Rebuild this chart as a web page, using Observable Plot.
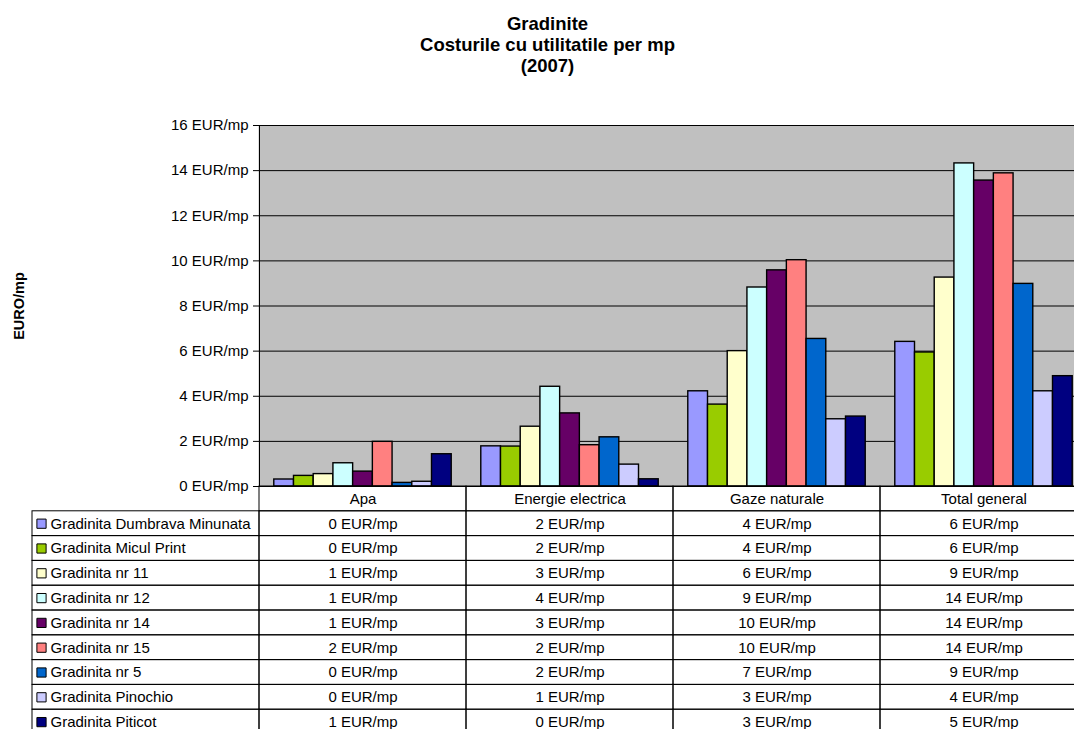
<!DOCTYPE html>
<html>
<head>
<meta charset="utf-8">
<script src="https://cdn.jsdelivr.net/npm/d3@7"></script>
<script src="https://cdn.jsdelivr.net/npm/@observablehq/plot@0.6"></script>
<style>
  html, body { margin: 0; padding: 0; background: #fff; overflow: hidden; }
  #wrap { position: relative; width: 1095px; height: 729px; font-family: "Liberation Sans", Arial, sans-serif; color: #000; }
  #title { position: absolute; left: 0; top: 12.6px; width: 1095px; text-align: center; font-weight: bold; font-size: 18.5px; line-height: 21.2px; }
  #ylabel { position: absolute; left: 19px; top: 306px; transform: translate(-50%, -50%) rotate(-90deg); font-weight: bold; font-size: 14.5px; white-space: nowrap; }
  #chart { position: absolute; left: 0; top: 0; }
  #table { position: absolute; left: 0; top: 486px; }
  svg { overflow: visible; }
</style>
</head>
<body>
<div id="wrap">
  <div id="title">Gradinite<br>Costurile cu utilitatile per mp<br>(2007)</div>
  <div id="ylabel">EURO/mp</div>
  <div id="chart"></div>
  <div id="table"></div>
</div>
<script>
const categories = ["Apa", "Energie electrica", "Gaze naturale", "Total general"];
const schools = [
  "Gradinita Dumbrava Minunata",
  "Gradinita Micul Print",
  "Gradinita nr 11",
  "Gradinita nr 12",
  "Gradinita nr 14",
  "Gradinita nr 15",
  "Gradinita nr 5",
  "Gradinita Pinochio",
  "Gradinita Piticot"
];
const colors = ["#9999FF", "#99CC00", "#FFFFCC", "#CCFFFF", "#660066", "#FF8080", "#0066CC", "#CCCCFF", "#000080"];

const apa     = [0.31, 0.47, 0.55, 1.03, 0.66, 1.98, 0.16, 0.21, 1.43];
const energie = [1.78, 1.77, 2.65, 4.42, 3.24, 1.83, 2.18, 0.97, 0.32];
const gaze    = [4.22, 3.63, 6.00, 8.82, 9.58, 10.03, 6.54, 2.98, 3.10];
const total   = [6.41, 5.94, 9.26, 14.32, 13.56, 13.88, 8.98, 4.22, 4.89];

const yTicks = [0, 2, 4, 6, 8, 10, 12, 14, 16];
const unit = "EUR/mp";
const headerKey = "__header__";

const series = [apa, energie, gaze, total];
const data = categories.flatMap((c, ci) =>
  schools.map((s, si) => ({category: c, school: s, value: series[ci][si]})));

const font = "'Liberation Sans', Arial, sans-serif";

const chart = Plot.plot({
  width: 1095, height: 488,
  marginTop: 125, marginBottom: 2, marginLeft: 259, marginRight: 8,
  style: {fontFamily: font, fontSize: "15px", background: "transparent", color: "#000"},
  fx: {domain: categories, padding: 0, axis: null, round: false, label: null},
  x: {domain: schools, paddingInner: 0, paddingOuter: 0.75, axis: null, round: false},
  y: {domain: [0, 16]},
  color: {domain: schools, range: colors},
  marks: [
    Plot.frame({fill: "#C0C0C0", stroke: "none", insetLeft: -1, insetRight: -1}),
    Plot.gridY(yTicks, {stroke: "#000", strokeOpacity: 1, strokeWidth: 1}),
    Plot.barY(data, {fx: "category", x: "school", y: "value", fill: "school", stroke: "#000", strokeWidth: 1.4}),
    Plot.axisY(yTicks, {tickFormat: d => `${d} ${unit}`, tickSize: 6, tickPadding: 5, label: null, fontSize: 15, stroke: "#000"}),
    Plot.frame({anchor: "left", facetAnchor: "left", stroke: "#000", strokeWidth: 1})
  ]
});
document.getElementById("chart").appendChild(chart);

const table = Plot.plot({
  width: 1095, height: 248,
  marginTop: 0, marginBottom: 0, marginLeft: 259, marginRight: 8,
  style: {fontFamily: font, fontSize: "15px", background: "transparent", color: "#000"},
  x: {domain: categories, padding: 0, axis: null, round: false},
  y: {domain: [headerKey, ...schools], padding: 0, axis: null, round: false},
  color: {domain: schools, range: colors},
  marks: [
    Plot.cell(categories, {x: d => d, y: () => headerKey, stroke: "#000", fill: "none"}),
    Plot.cell(data, {x: "category", y: "school", stroke: "#000", fill: "none"}),
    Plot.cell(schools, {x: () => categories[0], y: d => d, insetLeft: -227, insetRight: 207, stroke: "#000", fill: "none"}),
    Plot.dot(schools, {y: d => d, frameAnchor: "left", dx: -218, symbol: "square", r: 5.2, fill: d => d, stroke: "#000", strokeWidth: 1}),
    Plot.text(schools, {y: d => d, frameAnchor: "left", dx: -209, textAnchor: "start", text: d => d, fontSize: 15}),
    Plot.text(categories, {x: d => d, y: () => headerKey, text: d => d, fontSize: 15}),
    Plot.text(data, {x: "category", y: "school", text: d => `${Math.round(d.value)} ${unit}`, fontSize: 15})
  ]
});
document.getElementById("table").appendChild(table);
</script>
</body>
</html>
